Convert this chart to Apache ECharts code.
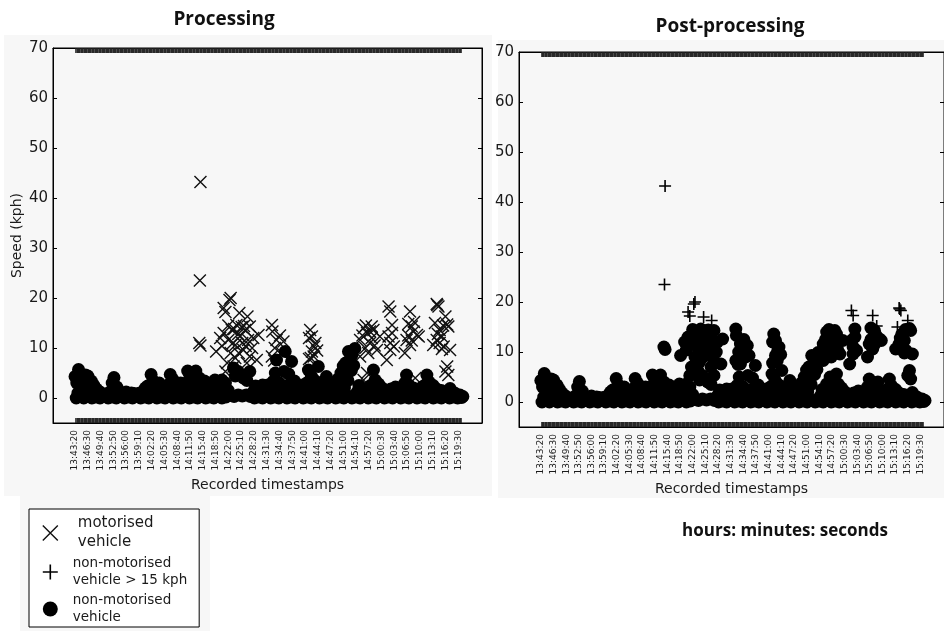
<!DOCTYPE html>
<html><head><meta charset="utf-8">
<script src="https://cdn.jsdelivr.net/npm/echarts@6/dist/echarts.min.js"></script>
<style>html,body{margin:0;padding:0;background:#fff}#c{width:944px;height:631px}</style>
</head><body><div id="c"></div>
<script>
// ---- tick labels (one label every 22 records) ----
const tickLabels = ['13:43:20','13:46:30','13:49:40','13:52:50','13:56:00','13:59:10','14:02:20','14:05:30',
  '14:08:40','14:11:50','14:15:40','14:18:50','14:22:00','14:25:10','14:28:20','14:31:30','14:34:40',
  '14:37:50','14:41:00','14:44:10','14:47:20','14:51:00','14:54:10','14:57:20','15:00:30','15:03:40',
  '15:06:50','15:10:00','15:13:10','15:16:20','15:19:30'];
const recordsPerLabel = 22;
const lastRecord = 665;
const yTicks = [0, 10, 20, 30, 40, 50, 60, 70];

// ---- motorised vehicles [record index, speed kph] ----
const motorised = [
  [216,43.2],[215,23.5],[214,11.0],[216,10.5],
  [243,9.3],[256,18.0],[259,17.2],[266,19.6],[268,20.0],[256,13.0],[264,11.6],[270,13.6],[283,17.0],
  [287,14.2],[297,16.3],[276,10.6],[284,12.3],[293,13.6],[298,11.6],[276,8.0],[290,9.6],[301,8.3],
  [313,7.6],[316,12.6],[301,14.3],[262,7.0],[259,5.3],[273,6.3],[278,14.6],[291,14.4],[272,11.0],
  [281,12.8],[288,11.0],[294,10.4],[305,10.0],[307,12.0],[268,9.0],[282,9.0],[296,7.0],[250,12.0],
  [264,14.5],[274,13.8],[253,10.4],
  [339,14.6],[340,13.3],[347,11.6],[359,11.3],[344,10.0],[339,8.3],[356,9.0],[353,12.5],[343,7.5],
  [405,13.6],[408,12.3],[414,11.0],[408,9.3],[411,8.3],[406,8.0],[403,7.8],[417,9.5],[412,10.3],[403,12.0],
  [497,14.0],[503,13.0],[508,13.3],[491,11.6],[508,11.0],[514,13.6],[500,10.0],[520,9.6],[505,9.0],
  [525,12.3],[491,8.3],[503,5.0],[497,3.6],[503,2.5],[511,12.0],[516,10.5],[495,12.5],[501,14.5],[511,14.3],
  [540,18.3],[543,17.3],[546,14.6],[540,12.3],[549,10.3],[543,9.6],[537,7.6],[546,13.0],[543,11.0],
  [577,17.3],[574,14.8],[580,14.3],[583,13.3],[589,12.6],[571,11.6],[577,10.6],[568,9.0],[584,15.2],
  [592,12.3],[586,4.0],[580,11.5],[574,12.5],
  [623,18.8],[624,18.6],[626,18.3],[638,16.3],[641,14.7],[620,15.0],[628,13.6],[643,14.3],[623,11.6],
  [632,12.3],[617,10.6],[635,10.3],[646,9.6],[641,6.3],[638,5.3],[643,4.6],[628,11.0],[634,14.5],
  [625,12.8],[632,9.8]
];

// ---- non-motorised vehicles [record index, speed kph] ----
const nonMotorised = [
  [2,0],
  [15,0],[22,0.3],[29,0],[36,0.2],[43,0],[50,0.4],[57,0],[64,0.2],[71,0],[78,0.3],[85,0],[92,0.2],
  [99,0],[106,0.3],[113,0],[120,0.2],[127,0],[134,0.4],[141,0],[148,0.2],[155,0],[162,0.3],[169,0],
  [176,0.2],[183,0],[190,0.4],[197,0],[204,0.2],[211,0],[218,0.3],[225,0],[232,0.2],[239,0],[246,0.4],
  [253,0],[260,0.2],[267,0.5],[274,0.3],[281,0.6],[288,0.4],[295,0.6],[302,0.3],[309,0],[316,0.2],
  [323,0],[330,0.3],[337,0],[344,0.2],[351,0],[358,0.4],[365,0],[372,0.2],[379,0],[386,0.3],[393,0],
  [400,0.2],[407,0],[414,0.4],[421,0],[428,0.2],[435,0],[442,0.3],[449,0],[456,0.2],[463,0],[470,0.4],
  [477,0],[484,0.2],[491,0],[498,0.3],[505,0],[512,0.2],[519,0],[526,0.4],[533,0],[540,0.2],[547,0],
  [554,0.3],[561,0],[568,0.2],[575,0],[582,0.4],[589,0],[596,0.2],[603,0],[610,0.3],[617,0],[624,0.2],
  [631,0],[638,0.4],[645,0],[652,0.2],[659,0],[666,0.1],
  [5,1.0],[26,1.0],[33,0.8],[40,0.5],[60,1.2],[75,1.0],[88,1.2],[97,1.0],[108,0.8],[116,1.2],
  [138,1.8],[145,3.0],[157,1.6],[171,1.9],[180,1.4],[200,1.6],[210,2.0],[221,1.8],[232,1.6],[244,1.9],
  [250,1.2],[308,1.4],[320,1.5],[328,1.8],[336,1.6],[349,1.5],[371,1.8],[381,1.6],[390,1.9],[397,1.4],
  [410,1.8],[418,2.0],[426,1.6],[440,1.5],[451,1.8],[456,2.2],[464,2.0],[486,1.2],[511,1.4],[520,1.0],
  [533,0.9],[548,1.1],[561,1.3],[580,1.2],[587,1.0],[594,1.6],[600,1.4],[613,1.2],[620,1.6],[627,0.8],
  [635,1.0],[650,0.8],[658,0.5],
  [0,4.3],[3,3.0],[6,5.7],[10,4.8],[14,3.8],[18,4.6],[22,4.4],[28,3.4],[32,2.6],[37,1.8],[43,1.2],
  [12,2.0],[20,1.5],[49,0.6],[55,0.8],[64,3.0],[67,4.1],[72,2.2],[82,0.8],[92,0.6],[102,0.9],[112,1.0],
  [121,2.0],[125,2.4],[129,2.5],[131,4.7],[134,3.5],[141,2.4],[148,2.0],[153,1.5],[160,2.6],[164,4.7],
  [168,3.8],[176,2.4],[182,3.0],[187,2.0],[192,3.0],[194,5.4],[198,4.2],[202,2.5],[208,5.4],[214,4.0],
  [217,2.8],[223,3.4],[229,3.0],[235,2.5],[241,3.6],[247,2.8],[253,3.6],[259,3.0],[264,1.5],
  [273,6.0],[276,4.4],[281,5.3],[290,4.0],[296,3.5],[301,5.3],[311,2.4],[317,2.0],[323,2.6],
  [332,2.6],[341,3.3],[345,5.0],[347,7.6],[352,3.0],[356,2.5],[360,5.3],[362,9.3],[366,2.5],[368,4.8],
  [373,7.3],[378,3.4],[386,2.5],[393,2.6],[399,3.0],[402,5.6],[407,4.4],[413,3.5],[419,6.3],[423,3.0],
  [429,2.5],[433,4.3],[436,2.0],[443,2.4],[448,3.0],[453,3.8],[458,5.0],[460,3.0],[462,6.4],[466,7.0],
  [468,4.5],[470,3.5],[471,9.3],[473,7.6],[476,5.5],[477,8.6],[480,6.5],[482,9.9],[489,2.5],[493,1.5],
  [499,1.0],[505,1.2],[509,2.5],[514,5.6],[517,3.6],[523,2.8],[529,2.0],[537,1.5],[544,1.8],[552,2.2],
  [558,1.4],[564,2.0],[568,3.0],[571,4.6],[575,2.6],[583,2.0],[591,1.6],[598,2.2],[603,2.6],[606,4.6],
  [610,3.2],[617,2.5],[623,1.8],[631,1.5],[638,1.2],[642,1.0],[646,1.9],[654,1.0],[663,0.6],[668,0.3]
];
const flagThreshold = 15;

// ---- derived tick positions ----
const labelPositions = tickLabels.map((_, i) => i * recordsPerLabel);
const recordTicks = [];
for (let i = 1; i <= lastRecord; i++) recordTicks.push(i);

// post-processing reclassification
const postFlagged = motorised.filter(p => p[1] >= flagThreshold);
const postNonMotor = nonMotorised.concat(motorised.filter(p => p[1] < flagThreshold));

const FONT = 'DejaVu Sans';
const TXT = '#1a1a1a';
const X_PATH = 'path://M0,0L12,12M12,0L0,12';
const PLUS_PATH = 'path://M6,0L6,12M0,6L12,6';

const legendLabels = {
  'motorised vehicle': 'motorised\nvehicle',
  'non-motorised vehicle > 15 kph': 'non-motorised\nvehicle > 15 kph',
  'non-motorised vehicle': 'non-motorised\nvehicle'
};

function xAxes(grid) {
  return [{
    type: 'value', gridIndex: grid, min: -38, max: 701, position: 'bottom',
    axisLine: { onZero: false, lineStyle: { color: '#000', width: 1 } },
    axisTick: { inside: true, length: 5, customValues: recordTicks, lineStyle: { color: '#202020', width: 0.8 } },
    axisLabel: {
      customValues: labelPositions, rotate: 90, fontSize: 9, margin: 7, fontFamily: FONT, color: TXT,
      formatter: v => tickLabels[Math.round(v / recordsPerLabel)] || ''
    },
    splitLine: { show: false },
    name: 'Recorded timestamps', nameLocation: 'middle', nameGap: 52,
    nameTextStyle: { fontSize: 14, fontFamily: FONT, color: TXT }
  }, {
    type: 'value', gridIndex: grid, min: -38, max: 701, position: 'top',
    axisLine: { onZero: false, lineStyle: { color: '#000', width: 1 } },
    axisTick: { inside: true, length: 5, customValues: recordTicks, lineStyle: { color: '#202020', width: 0.8 } },
    axisLabel: { show: false },
    splitLine: { show: false }
  }];
}
function yAxes(grid, withName) {
  return [{
    type: 'value', gridIndex: grid, min: -5, max: 70, position: 'left',
    axisLine: { onZero: false, lineStyle: { color: '#000', width: 1 } },
    axisTick: { inside: true, length: 4, customValues: yTicks, lineStyle: { color: '#000' } },
    axisLabel: { customValues: yTicks, fontSize: 15, margin: 5, fontFamily: FONT, color: TXT },
    splitLine: { show: false },
    name: withName ? 'Speed (kph)' : '', nameLocation: 'middle', nameGap: 29,
    nameTextStyle: { fontSize: 14, fontFamily: FONT, color: TXT }
  }, {
    type: 'value', gridIndex: grid, min: -5, max: 70, position: 'right',
    axisLine: { onZero: false, lineStyle: { color: '#000', width: 1 } },
    axisTick: { inside: true, length: 4, customValues: yTicks, lineStyle: { color: '#000' } },
    axisLabel: { show: false },
    splitLine: { show: false }
  }];
}

const xStyle = { color: 'rgba(0,0,0,0)', borderColor: '#111', borderWidth: 1.4, opacity: 1 };
const plusStyle = { color: 'rgba(0,0,0,0)', borderColor: '#000', borderWidth: 1.6, opacity: 1 };
const dotStyle = { color: '#000', opacity: 1 };

const chart = echarts.init(document.getElementById('c'));
chart.setOption({
  animation: false,
  backgroundColor: '#ffffff',
  graphic: [
    { type: 'rect', z: -100, silent: true, shape: { x: 4, y: 35, width: 488, height: 461 }, style: { fill: '#f7f7f7' } },
    { type: 'rect', z: -100, silent: true, shape: { x: 498, y: 40, width: 446, height: 458 }, style: { fill: '#f7f7f7' } },
    { type: 'rect', z: -100, silent: true, shape: { x: 20, y: 496, width: 190, height: 135 }, style: { fill: '#f7f7f7' } },
    { type: 'text', x: 224, y: 20, style: { text: 'Processing', font: 'bold 19px "Open Sans"', fill: '#111', textAlign: 'center', textVerticalAlign: 'middle' } },
    { type: 'text', x: 730, y: 27, style: { text: 'Post-processing', font: 'bold 19px "Open Sans"', fill: '#111', textAlign: 'center', textVerticalAlign: 'middle' } },
    { type: 'text', x: 785, y: 531, style: { text: 'hours: minutes: seconds', font: 'bold 17px "Open Sans"', fill: '#111', textAlign: 'center', textVerticalAlign: 'middle' } }
  ],
  grid: [
    { left: 53, top: 48, width: 429, height: 375, show: true, borderColor: '#000', borderWidth: 1, backgroundColor: 'transparent' },
    { left: 519, top: 52, width: 429, height: 375, show: true, borderColor: '#000', borderWidth: 1, backgroundColor: 'transparent' }
  ],
  xAxis: xAxes(0).concat(xAxes(1)),
  yAxis: yAxes(0, true).concat(yAxes(1, false)),
  legend: {
    orient: 'vertical', left: 29, top: 509,
    padding: [5, 12, 1, 13], itemGap: 3, itemWidth: 15, itemHeight: 15,
    borderColor: '#000', borderWidth: 1, backgroundColor: '#fff',
    selectedMode: false,
    formatter: n => legendLabels[n],
    textStyle: { fontFamily: FONT, color: TXT, fontSize: 13.5, lineHeight: 17, padding: [0, 0, 0, 10] },
    data: [
      { name: 'motorised vehicle', icon: X_PATH, itemStyle: xStyle, textStyle: { fontSize: 15, lineHeight: 19, padding: [0, 0, 0, 15] } },
      { name: 'non-motorised vehicle > 15 kph', icon: PLUS_PATH, itemStyle: plusStyle },
      { name: 'non-motorised vehicle', icon: 'circle', itemStyle: dotStyle }
    ]
  },
  series: [
    { name: 'motorised vehicle', type: 'scatter', xAxisIndex: 0, yAxisIndex: 0, data: motorised,
      symbol: X_PATH, symbolSize: 12, itemStyle: xStyle, z: 2 },
    { name: 'non-motorised vehicle', type: 'scatter', xAxisIndex: 0, yAxisIndex: 0, data: nonMotorised,
      symbol: 'circle', symbolSize: 13, itemStyle: dotStyle, z: 3 },
    { name: 'non-motorised vehicle', type: 'scatter', xAxisIndex: 2, yAxisIndex: 2, data: postNonMotor,
      symbol: 'circle', symbolSize: 13, itemStyle: dotStyle, z: 3 },
    { name: 'non-motorised vehicle > 15 kph', type: 'scatter', xAxisIndex: 2, yAxisIndex: 2, data: postFlagged,
      symbol: PLUS_PATH, symbolSize: 12, itemStyle: plusStyle, z: 4 }
  ]
});
</script></body></html>
